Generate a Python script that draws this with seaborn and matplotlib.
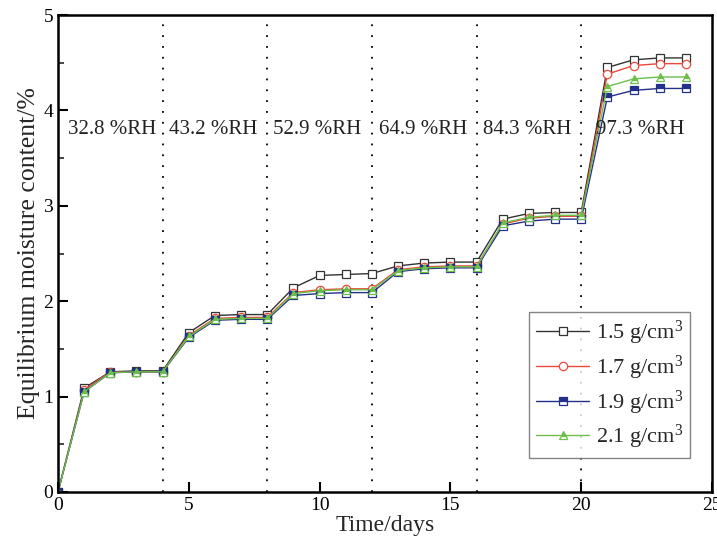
import numpy as np
import pandas as pd
import seaborn as sns
import matplotlib
matplotlib.use("Agg")
import matplotlib.pyplot as plt
from matplotlib.ticker import MultipleLocator

days = list(range(0, 25))
d15 = [0, 1.09, 1.26, 1.27, 1.27, 1.67, 1.85, 1.86, 1.86, 2.14, 2.27, 2.28, 2.29,
       2.37, 2.40, 2.41, 2.41, 2.86, 2.92, 2.93, 2.93, 4.45, 4.53, 4.55, 4.55]
d17 = [0, 1.07, 1.26, 1.26, 1.26, 1.64, 1.82, 1.83, 1.83, 2.09, 2.12, 2.13, 2.13,
       2.33, 2.36, 2.37, 2.37, 2.81, 2.87, 2.89, 2.89, 4.38, 4.47, 4.49, 4.49]
d19 = [0, 1.05, 1.25, 1.26, 1.26, 1.62, 1.80, 1.81, 1.81, 2.06, 2.08, 2.09, 2.09,
       2.31, 2.34, 2.35, 2.35, 2.79, 2.84, 2.86, 2.86, 4.14, 4.21, 4.23, 4.23]
d21 = [0, 1.05, 1.25, 1.26, 1.26, 1.63, 1.81, 1.82, 1.82, 2.08, 2.11, 2.12, 2.12,
       2.32, 2.35, 2.36, 2.36, 2.82, 2.88, 2.90, 2.90, 4.25, 4.33, 4.35, 4.35]
series_labels = ["1.5 g/cm$^{3}$", "1.7 g/cm$^{3}$", "1.9 g/cm$^{3}$", "2.1 g/cm$^{3}$"]
rh_labels = ["32.8 %RH", "43.2 %RH", "52.9 %RH", "64.9 %RH", "84.3 %RH", "97.3 %RH"]
rh_x = [2.05, 5.95, 9.9, 13.95, 17.95, 22.25]
boundaries = [4, 8, 12, 16, 20]

sns.set_theme(style="ticks")
plt.rcParams['font.family'] = ['Liberation Serif', 'DejaVu Serif']
plt.rcParams['mathtext.fontset'] = 'custom'
plt.rcParams['mathtext.rm'] = 'Liberation Serif'
plt.rcParams['mathtext.it'] = 'Liberation Serif:italic'

fig = plt.figure(figsize=(7.17, 5.52), dpi=100)
ax = fig.add_axes([58/717, 1 - 492/552, (712-58)/717, (492-15)/552])

styles = [
    dict(color="#333333", marker="s", mfc="white", mec="#333333", fillstyle="full"),
    dict(color="#e8493c", marker="o", mfc="white", mec="#e8493c", fillstyle="full"),
    dict(color="#23318a", marker="s", mfc="#23318a", mec="#23318a", fillstyle="top", mfcalt="white"),
    dict(color="#6cbf48", marker="^", mfc="#6cbf48", mec="#6cbf48", fillstyle="top", mfcalt="white"),
]
for vals, lab, st in zip([d15, d17, d19, d21], series_labels, styles):
    df = pd.DataFrame({"day": days, "val": vals})
    sns.lineplot(data=df, x="day", y="val", ax=ax, label=lab, linewidth=1.0,
                 markersize=6, markeredgewidth=0.9, **st)

for b in boundaries:
    ax.axvline(b, color="black", linestyle=(0, (1, 5)), linewidth=1.3, zorder=0)

for x, t in zip(rh_x, rh_labels):
    ax.text(x, 3.8, t, ha="center", va="center", fontsize=15, color="#222222")

ax.set_xlim(0, 25)
ax.set_ylim(0, 5)
ax.xaxis.set_major_locator(MultipleLocator(5))
ax.yaxis.set_major_locator(MultipleLocator(1))
ax.yaxis.set_minor_locator(MultipleLocator(0.5))
ax.tick_params(axis="both", which="major", direction="in", length=7, width=1.5,
               labelsize=14, colors="black")
ax.tick_params(axis="y", which="minor", direction="in", length=4, width=1.2)
ax.set_xlabel("Time/days", fontsize=17, labelpad=1)
ax.set_ylabel("Equilibrium moisture content/%", fontsize=18.5, labelpad=2)
for s in ax.spines.values():
    s.set_linewidth(1.8)
    s.set_color("black")

leg = ax.legend(loc="lower right", bbox_to_anchor=(0.966, 0.071), borderaxespad=0,
                fontsize=16, frameon=True, fancybox=False, edgecolor="#666666",
                handlelength=2.4, borderpad=0.3, labelspacing=0.3, handletextpad=0.3)
leg.get_frame().set_linewidth(1.0)

fig.savefig("out.png", dpi=100, facecolor="white")
